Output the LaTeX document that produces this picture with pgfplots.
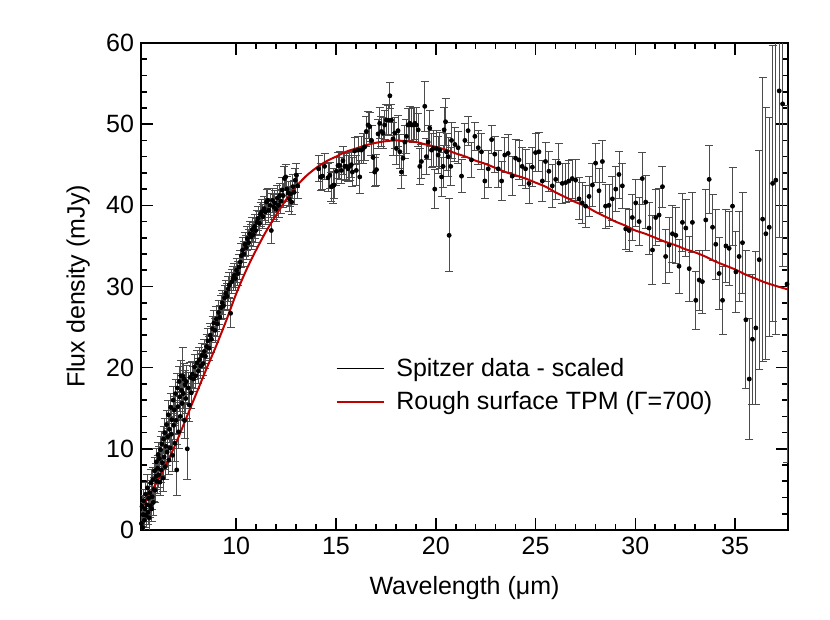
\documentclass[border=0pt]{standalone}
\usepackage{fontspec}
\setmainfont{Liberation Sans}
\setsansfont{Liberation Sans}
\usepackage{pgfplots}
\usepackage{pgfplotstable}
\pgfplotsset{compat=1.18}
\definecolor{modelred}{RGB}{190,0,0}

% Spitzer spectrum (scaled): wavelength, flux, error
\pgfplotstableread{
x y e
5.25 0.8 1.5
5.28 2.9 1.4
5.31 0.3 1.6
5.34 1.9 1.5
5.37 3.6 1.4
5.40 1.2 1.5
5.43 2.6 1.6
5.46 4.4 1.5
5.49 1.8 1.5
5.52 3.1 1.4
5.55 5.2 1.6
5.58 2.2 1.5
5.61 3.9 1.5
5.64 1.5 1.6
5.67 4.6 1.5
5.70 3.0 1.5
5.73 5.8 1.6
5.76 2.6 1.5
5.79 4.1 1.6
5.82 6.2 1.5
5.85 3.4 1.6
5.88 5.0 1.5
5.91 7.3 1.6
5.94 4.9 1.5
5.97 6.6 1.6
6.00 8.4 1.6
6.03 6.0 1.5
6.06 7.6 1.6
6.09 9.3 1.5
6.12 6.8 1.6
6.15 8.8 1.5
6.18 5.9 1.6
6.21 9.9 1.6
6.24 7.4 1.5
6.27 10.6 1.6
6.30 8.3 1.6
6.33 6.4 1.7
6.36 11.2 1.6
6.39 9.0 1.6
6.42 12.0 1.7
6.45 7.8 1.6
6.48 10.3 1.6
6.51 13.0 1.7
6.54 9.6 1.6
6.57 11.5 1.6
6.60 14.2 1.7
6.63 8.6 1.8
6.66 12.4 1.6
6.69 10.1 1.7
6.72 15.1 1.7
6.75 11.8 1.6
6.78 13.6 1.7
6.81 9.2 2.0
6.84 16.0 1.7
6.87 12.9 1.7
6.90 14.8 1.7
6.93 10.7 2.2
6.96 16.8 1.8
6.99 13.5 1.7
7.02 7.4 3.2
7.05 17.5 1.8
7.08 15.2 1.7
7.11 12.1 2.0
7.14 18.3 1.8
7.17 16.4 1.8
7.20 14.0 2.0
7.23 19.0 1.9
7.26 17.2 1.8
7.29 15.6 2.0
7.32 19.0 3.5
7.35 16.8 1.8
7.38 18.6 1.9
7.41 13.5 2.2
7.44 17.9 1.8
7.47 16.2 1.9
7.50 18.3 2.0
7.55 10.0 3.8
7.60 17.5 1.9
7.65 15.4 2.0
7.70 18.8 1.8
7.75 16.9 1.9
7.80 19.2 1.6
7.86 18.6 1.5
7.92 20.1 1.5
7.98 19.0 1.5
8.04 20.6 1.5
8.10 19.6 1.5
8.16 21.0 1.5
8.22 20.2 1.5
8.28 21.5 1.5
8.34 20.5 1.5
8.40 22.0 1.5
8.46 21.4 1.5
8.52 22.6 1.5
8.58 23.3 1.5
8.64 22.4 1.5
8.70 24.0 1.5
8.76 23.5 1.6
8.82 24.8 1.5
8.88 25.5 1.5
8.94 24.6 1.5
9.00 26.0 1.5
9.06 25.4 1.6
9.12 26.8 1.5
9.18 26.2 1.5
9.24 27.4 1.5
9.30 28.0 1.5
9.36 27.6 1.5
9.42 28.6 1.5
9.48 29.2 1.5
9.54 28.8 1.6
9.60 29.7 1.5
9.66 30.2 1.5
9.72 26.7 1.8
9.78 30.6 1.5
9.84 31.0 1.5
9.90 31.4 1.5
9.96 31.0 1.5
10.02 32.0 1.5
10.08 31.6 1.5
10.14 32.4 1.5
10.20 33.0 1.5
10.26 33.8 1.5
10.32 34.5 1.5
10.38 34.0 1.5
10.44 35.2 1.5
10.50 34.8 1.5
10.56 35.9 1.5
10.62 35.4 1.6
10.68 36.5 1.5
10.74 36.1 1.5
10.80 37.0 1.5
10.86 36.4 1.5
10.92 37.4 1.5
10.98 36.9 1.5
11.04 37.9 1.5
11.10 38.4 1.5
11.16 37.8 1.5
11.22 38.9 1.5
11.28 39.2 1.5
11.34 38.6 1.5
11.40 39.6 1.5
11.46 39.2 1.5
11.52 40.4 1.5
11.58 40.6 1.5
11.64 39.4 1.5
11.70 40.0 1.5
11.76 36.9 1.6
11.82 40.6 1.5
11.88 39.8 1.5
11.94 40.3 1.5
12.00 39.5 1.5
12.06 40.9 1.5
12.12 40.0 1.5
12.18 41.2 1.5
12.24 40.5 1.5
12.30 41.9 1.5
12.36 41.2 1.5
12.42 43.3 1.5
12.48 43.5 1.5
12.54 42.0 1.5
12.60 41.5 1.5
12.66 40.8 1.5
12.72 41.4 1.5
12.78 40.4 1.5
12.84 42.3 1.5
12.90 41.6 1.5
12.96 43.1 1.5
13.02 43.7 1.5
13.08 42.4 1.5
14.13 44.5 1.6
14.23 43.5 1.7
14.32 43.6 1.6
14.43 44.8 1.6
14.60 43.4 1.7
14.69 43.7 1.6
14.77 42.3 1.8
14.85 42.4 2.2
14.90 42.5 1.7
15.02 44.2 1.7
15.10 44.9 1.6
15.19 44.9 1.7
15.27 44.3 1.6
15.35 45.5 1.7
15.44 44.8 1.6
15.52 44.8 1.7
15.60 44.5 1.6
15.69 44.8 1.7
15.77 45.0 1.6
15.82 44.1 1.8
15.94 46.7 1.7
16.02 44.3 1.8
16.11 46.8 1.7
16.19 43.5 2.0
16.27 46.8 1.7
16.36 47.0 1.8
16.44 47.2 1.7
16.52 49.1 1.8
16.61 49.9 1.7
16.69 49.7 1.8
16.78 48.0 1.8
16.86 45.9 1.9
16.94 44.1 1.8
17.03 44.4 1.9
17.11 48.8 1.8
17.19 50.1 1.9
17.28 49.1 1.8
17.36 48.9 1.9
17.44 49.9 1.8
17.53 50.5 1.9
17.61 50.5 1.8
17.70 53.5 1.6
17.78 50.5 1.9
17.86 48.2 2.0
17.95 48.9 1.9
18.03 47.0 2.0
18.11 49.2 1.9
18.20 46.6 2.1
18.28 44.1 2.0
18.36 45.8 2.1
18.45 47.8 2.0
18.53 48.5 2.1
18.61 49.9 2.0
18.70 50.1 2.1
18.78 49.9 2.0
18.87 49.9 2.1
18.95 50.1 2.0
19.03 49.9 2.1
19.12 49.3 2.0
19.20 44.8 2.2
19.28 45.4 2.1
19.45 52.2 3.1
19.53 46.0 2.2
19.62 47.8 2.1
19.70 49.5 2.2
19.79 46.8 2.1
19.87 47.0 2.2
19.95 42.0 2.4
20.04 47.0 2.2
20.12 46.2 2.3
20.20 46.8 2.2
20.29 43.5 2.4
20.37 44.8 2.6
20.42 49.3 2.8
20.49 50.3 2.9
20.54 46.6 2.3
20.62 46.0 2.4
20.67 36.3 4.5
20.75 44.8 2.3
20.79 48.0 2.2
20.96 47.5 2.1
21.12 47.1 2.0
21.29 43.6 2.0
21.46 48.0 2.1
21.62 49.2 1.8
21.79 45.6 2.2
21.96 48.5 1.7
22.13 47.1 2.1
22.29 46.6 2.2
22.46 43.0 2.2
22.63 44.5 2.3
22.80 48.1 1.7
22.96 46.3 2.2
23.13 44.5 2.3
23.30 43.0 2.4
23.46 46.2 2.2
23.63 46.4 2.3
23.83 43.6 2.4
24.00 45.8 2.3
24.17 45.6 2.4
24.33 44.8 2.3
24.50 44.5 2.4
24.67 42.7 2.5
24.84 44.7 2.4
25.00 46.5 2.3
25.17 46.6 2.4
25.34 43.0 2.5
25.50 45.4 2.4
25.67 44.2 2.5
25.84 42.4 2.6
26.01 43.2 2.5
26.17 45.2 2.4
26.34 42.7 2.5
26.51 42.8 2.4
26.67 43.0 2.5
26.84 43.3 2.4
27.01 43.1 2.5
27.18 40.8 2.6
27.34 40.3 2.5
27.51 39.9 2.6
27.68 41.1 2.5
27.85 42.5 2.6
28.01 45.2 2.4
28.18 41.8 2.7
28.35 45.4 2.6
28.51 39.9 2.7
28.68 40.0 2.6
28.85 40.8 2.7
29.02 42.0 2.8
29.18 43.8 2.9
29.35 42.4 2.8
29.52 37.1 2.5
29.69 36.9 2.6
29.85 38.5 2.8
30.02 40.3 2.9
30.19 38.0 3.0
30.35 43.3 3.2
30.52 40.4 3.3
30.69 37.2 3.2
30.86 34.5 4.2
31.02 38.5 3.4
31.19 38.8 3.3
31.36 42.3 2.5
31.52 33.7 3.3
31.69 35.1 3.4
31.86 36.5 3.5
32.03 36.3 3.4
32.19 32.5 3.3
32.36 37.9 3.6
32.53 37.2 3.5
32.70 32.2 4.0
32.86 37.9 3.7
33.03 28.3 3.6
33.20 30.8 3.7
33.36 30.6 3.9
33.53 38.2 3.8
33.70 43.2 4.2
33.87 37.3 4.1
34.03 35.2 4.3
34.20 31.6 4.4
34.37 28.3 4.2
34.54 35.0 4.5
34.70 34.7 4.6
34.87 39.9 4.8
35.04 31.8 5.0
35.20 33.7 5.6
35.37 35.4 6.2
35.54 25.9 8.5
35.71 18.6 7.5
35.87 23.5 8.0
36.04 24.9 9.4
36.21 33.3 13.5
36.38 38.3 17.5
36.54 36.5 15.5
36.71 37.3 13.5
36.88 42.7 17.0
37.04 43.1 19.0
37.21 54.1 18.0
37.38 52.5 20.0
37.60 30.3 22.0
}\spitzer

% rough surface thermophysical model
\pgfplotstableread{
x y
5.25 2.7
5.5 3.7
6.0 5.8
6.5 8.1
7.0 10.8
7.5 13.8
8.0 16.8
8.5 19.8
9.0 22.7
9.5 25.8
10.0 29.1
10.5 32.0
11.0 34.5
11.5 36.8
12.0 38.8
12.5 40.7
13.0 42.3
13.5 43.6
14.0 44.6
14.5 45.4
15.0 46.0
15.5 46.6
16.0 47.0
16.5 47.4
17.0 47.7
17.5 47.9
18.0 48.0
18.5 47.9
19.0 47.8
19.5 47.5
20.0 47.2
20.5 46.85
21.0 46.4
21.5 46.0
22.0 45.5
22.5 45.1
23.0 44.6
23.5 44.1
24.0 43.7
24.5 43.3
25.0 42.8
25.5 42.3
26.0 41.6
26.5 41.0
27.0 40.4
27.5 39.9
28.0 39.2
28.5 38.6
29.0 38.0
29.5 37.5
30.0 36.9
30.5 36.5
31.0 36.0
31.5 35.5
32.0 35.1
32.5 34.6
33.0 34.2
33.5 33.7
34.0 33.1
34.5 32.6
35.0 32.1
35.5 31.5
36.0 31.0
36.5 30.5
37.0 30.1
37.7 29.6
}\model

\begin{document}
\begin{tikzpicture}
\useasboundingbox (-70.5pt,-45pt) rectangle (344.5pt,265pt);
\begin{axis}[
    at={(0,0)}, anchor=south west,
    scale only axis,
    width=323.5pt, height=243.5pt,
    xmin=5.23, xmax=37.65,
    ymin=0, ymax=60,
    xtick={10,15,20,25,30,35},
    ytick={0,10,20,30,40,50,60},
    minor x tick num=4,
    minor y tick num=4,
    xtick pos=both, ytick pos=both,
    tick align=inside,
    major tick length=6pt,
    minor tick length=3pt,
    every tick/.style={black, line width=0.8pt},
    axis line style={line width=1pt},
    /pgf/number format/assume math mode=true,
    tick label style={font=\fontsize{12.5}{15}\selectfont},
    xlabel={Wavelength (μm)},
    ylabel={Flux density (mJy)},
    every axis x label/.style={at={(axis description cs:0.5,-0.119)}, anchor=center,
        font=\fontsize{12.5}{15}\selectfont},
    every axis y label/.style={at={(axis description cs:-0.097,0.5)}, rotate=90, anchor=center,
        font=\fontsize{12.5}{15}\selectfont},
    legend style={draw=none, fill=none, inner sep=0pt,
        at={(axis description cs:0.301,0.297)}, anchor=west,
        font=\fontsize{12.5}{15}\selectfont, row sep=2pt},
    legend cell align=left,
    legend image code/.code={\draw[#1] (0pt,0pt) -- (23.5pt,0pt); \path (27.5pt,0pt);},
]
\addplot[only marks, mark=*, mark size=1pt, black,
    error bars/.cd, y dir=both, y explicit,
    error bar style={line width=0.45pt, black!70},
    error mark options={rotate=90, mark size=2pt, line width=0.45pt, black!70},
    ] table[x=x, y=y, y error=e] {\spitzer};
\addlegendentry{Spitzer data - scaled}
\addplot[modelred, line width=1pt, smooth, legend image post style={line width=0.6pt}] table[x=x, y=y] {\model};
\addlegendentry{Rough surface TPM (Γ=700)}
\end{axis}
\end{tikzpicture}
\end{document}
